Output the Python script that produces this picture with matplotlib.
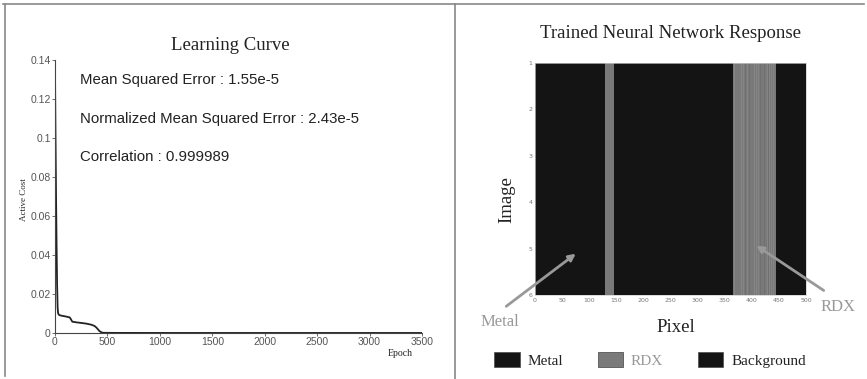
#!/usr/bin/env python3
"""Learning curve and trained network response, side by side."""

import matplotlib
matplotlib.use("Agg")
import matplotlib.pyplot as plt
from matplotlib.lines import Line2D
from matplotlib.patches import Patch
import numpy as np

# learning curve
epochs = [0, 5, 10, 15, 20, 25, 30, 40, 60, 100, 140, 150, 165, 200, 300, 350, 380, 400, 420, 440, 460, 600, 1000, 2000, 3500]
cost = [0.135, 0.10, 0.07, 0.045, 0.025, 0.013, 0.0100, 0.0092, 0.0089, 0.0085, 0.0080, 0.0072, 0.0058, 0.0055, 0.0048, 0.0042, 0.0035, 0.0025, 0.0012, 0.0004, 0.0001, 0.00005, 0.00003, 0.00002, 0.00002]
metrics = [
    "Mean Squared Error : 1.55e-5",
    "Normalized Mean Squared Error : 2.43e-5",
    "Correlation : 0.999989",
]

# network response: 6 images x 500 pixels, RDX pixel spans
n_images = 6
n_pixels = 500
rdx_spans = [(130, 145), (366, 445)]
class_names = ["Metal", "RDX", "Background"]
class_colors = ["#141414", "#7a7a7a", "#141414"]

SERIF = ["Liberation Serif", "DejaVu Serif"]
SANS = ["Liberation Sans", "DejaVu Sans"]


def main() -> None:
    fig = plt.figure(figsize=(8.67, 3.79), dpi=100)
    W, H = 867, 379

    def fx(px):
        return px / W

    def fy(py):
        return 1 - py / H

    # frame lines
    for xs, ys in [((3, 864), (4, 4)), ((5, 5), (4, 376)), ((455, 455), (4, 379))]:
        fig.add_artist(Line2D([fx(x) for x in xs], [fy(y) for y in ys], color="#888888", lw=1.2))

    # ---- left: learning curve
    ax = fig.add_axes([fx(55), fy(333), fx(422) - fx(55), fy(60) - fy(333)])
    ax.plot(epochs, cost, color="#222222", lw=1.3)
    ax.set_xlim(0, 3500)
    ax.set_ylim(0, 0.14)
    ax.set_xticks(np.arange(0, 3501, 500))
    ax.set_yticks([0, 0.02, 0.04, 0.06, 0.08, 0.1, 0.12, 0.14])
    ax.set_yticklabels(["0", "0.02", "0.04", "0.06", "0.08", "0.1", "0.12", "0.14"])
    for s in ["top", "right"]:
        ax.spines[s].set_visible(False)
    for s in ["left", "bottom"]:
        ax.spines[s].set_color("#444444")
        ax.spines[s].set_linewidth(0.8)
    ax.tick_params(labelsize=7.5, colors="#555555", length=2, width=0.6, pad=1)
    for lab in ax.get_xticklabels() + ax.get_yticklabels():
        lab.set_family(SANS)
    fig.text(fx(230), fy(45), "Learning Curve", family=SERIF, fontsize=13.5,
             ha="center", va="center", color="#222222")
    for i, m in enumerate(metrics):
        fig.text(fx(80), fy(80 + 38.5 * i), m, family=SANS, fontsize=10.8,
                 ha="left", va="center", color="#222222")
    fig.text(fx(24), fy(200), "Active Cost", family=SERIF, fontsize=6.5,
             rotation=90, ha="center", va="center", color="#222222")
    fig.text(fx(400), fy(354), "Epoch", family=SERIF, fontsize=7,
             ha="center", va="center", color="#222222")

    # ---- right: response image
    labels = np.full((n_images, n_pixels), 2)
    for a, b in rdx_spans:
        labels[:, a:b] = 1
    shade = np.array([0.08, 0.48, 0.08])[labels]
    # faint pixel-to-pixel texture inside the wide RDX span
    cols = np.arange(n_pixels)
    wide = (cols >= rdx_spans[1][0]) & (cols < rdx_spans[1][1])
    shade[:, wide & (cols % 4 == 0)] = 0.52
    shade[:, wide & (cols % 7 == 3)] = 0.44

    ax2 = fig.add_axes([fx(535), fy(295), fx(806) - fx(535), fy(63) - fy(295)])
    ax2.imshow(shade, cmap="gray", vmin=0, vmax=1, aspect="auto",
               extent=[0, n_pixels, n_images, 1], interpolation="nearest")
    ax2.set_xlim(0, 500)
    ax2.set_ylim(6, 1)
    ax2.set_xticks(np.arange(0, 501, 50))
    ax2.set_yticks(np.arange(1, 7))
    ax2.tick_params(labelsize=4.5, colors="#777777", length=0, pad=2)
    for s in ax2.spines.values():
        s.set_color("#cccccc")
        s.set_linewidth(0.5)

    fig.text(fx(670), fy(33), "Trained Neural Network Response", family=SERIF,
             fontsize=13.5, ha="center", va="center", color="#222222")
    fig.text(fx(507), fy(200), "Image", family=SERIF, fontsize=13.5,
             rotation=90, ha="center", va="center", color="#222222")
    fig.text(fx(676), fy(328), "Pixel", family=SERIF, fontsize=13.5,
             ha="center", va="center", color="#222222")

    # arrows
    fig.add_artist(plt.Annotation("", xy=(fx(578), fy(252)), xytext=(fx(504), fy(308)),
                                  xycoords="figure fraction", textcoords="figure fraction",
                                  arrowprops=dict(arrowstyle="-|>", color="#999999", lw=2,
                                                  mutation_scale=10)))
    fig.add_artist(plt.Annotation("", xy=(fx(754), fy(244)), xytext=(fx(826), fy(292)),
                                  xycoords="figure fraction", textcoords="figure fraction",
                                  arrowprops=dict(arrowstyle="-|>", color="#999999", lw=2,
                                                  mutation_scale=10)))
    fig.text(fx(500), fy(322), "Metal", family=SERIF, fontsize=12,
             ha="center", va="center", color="#999999")
    fig.text(fx(838), fy(307), "RDX", family=SERIF, fontsize=12,
             ha="center", va="center", color="#999999")

    # legend
    handles = [Patch(facecolor=c, edgecolor="#555555", lw=0.6) for c in class_colors]
    leg = fig.legend(handles, class_names, loc="center", bbox_to_anchor=(fx(650), fy(360)),
                     ncol=3, frameon=False, handlelength=1.65, handleheight=1.1,
                     columnspacing=2.3, handletextpad=0.5,
                     prop={"family": SERIF, "size": 11})
    for t, c in zip(leg.get_texts(), ["#222222", "#999999", "#222222"]):
        t.set_color(c)

    fig.savefig("out.png", dpi=100)
    plt.close(fig)


if __name__ == "__main__":
    main()
